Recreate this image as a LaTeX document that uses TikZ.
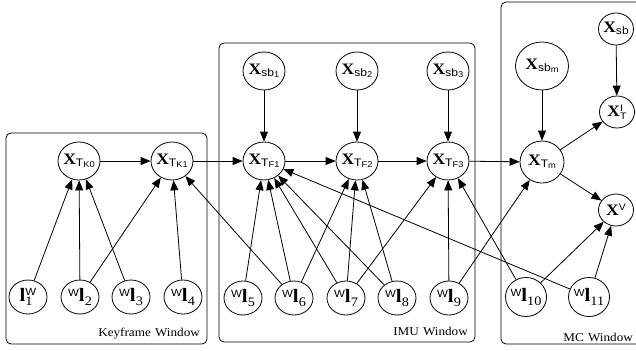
\documentclass[tikz,border=0pt]{standalone}
\usepackage{fontspec}
\setmainfont{Liberation Serif}[FakeStretch=1.1]
\setsansfont{Liberation Sans}[FakeStretch=1.1]
\usetikzlibrary{shapes.geometric,arrows.meta}

% label of zero width, so that the ellipse keeps its own size
\newcommand\zw[1]{\makebox[0pt]{#1}}
% bold X with a two-level sans subscript, e.g. X_{T_{K0}}
\newcommand\xsubsub[2]{\zw{{\fontsize{16}{16}\selectfont\bfseries X}\raisebox{-1.5pt}{\fontsize{11}{11}\sffamily #1\raisebox{-1pt}{\fontsize{8.5}{8.5}\selectfont #2}}}}
% bold X with stacked sans superscript / subscript
\newcommand\xsupsub[2]{\zw{{\fontsize{16}{16}\selectfont\bfseries X}\raisebox{5pt}{\rlap{\fontsize{9.5}{9.5}\sffamily #1}}\raisebox{-3pt}{\fontsize{9.5}{9.5}\sffamily #2}}}
% landmark with a left superscript frame label
\newcommand\lmk[1]{\zw{\raisebox{5.5pt}{\fontsize{10.5}{10.5}\sffamily W}{\fontsize{19}{19}\selectfont\bfseries l}\raisebox{-3.5pt}{\fontsize{13}{13}\selectfont #1}}}

\begin{document}
\begin{tikzpicture}[x=1bp,y=-1bp,
  var/.style={ellipse, draw, line width=0.8bp, inner sep=0pt,
              minimum width=42bp, minimum height=38bp},
  small/.style={var, minimum width=35bp, minimum height=32bp},
  obs/.style={var, minimum width=38bp, minimum height=34bp},
  obsw/.style={var, minimum width=41bp, minimum height=39bp},
  arr/.style={-{Triangle[length=10bp,width=8bp]}, line width=0.8bp},
  win/.style={draw, rounded corners=5bp, line width=0.8bp},
  winlabel/.style={font=\fontsize{12}{12}\selectfont, inner sep=0pt}]
\useasboundingbox (0,0) rectangle (636,350);

% windows
\draw[win] (6,133) rectangle (207,344);
\draw[win] (219,43) rectangle (475,342);
\draw[win] (501,2) rectangle (660,344);
\node[winlabel, anchor=base east] (kfl) at (200,336) {Keyframe\hspace{0.35em}Window};
\node[winlabel, anchor=base east] (imul) at (468,335) {IMU\hspace{0.35em}Window};
\node[winlabel, anchor=base east] (mcl) at (633,341) {MC\hspace{0.35em}Window};

% pose chain
\node[var] (tk0) at (79,161) {\xsubsub{T}{K0}};
\node[var] (tk1) at (172,161) {\xsubsub{T}{K1}};
\node[var] (tf1) at (264,161) {\xsubsub{T}{F1}};
\node[var] (tf2) at (357,161) {\xsubsub{T}{F2}};
\node[var] (tf3) at (448,161) {\xsubsub{T}{F3}};
\node[var, minimum width=44bp, minimum height=42bp] (tm) at (542,162) {\xsubsub{T}{m}};

% speed / bias states
\node[var] (sb1) at (264,71) {\xsubsub{sb}{1}};
\node[var] (sb2) at (357,71) {\xsubsub{sb}{2}};
\node[var] (sb3) at (448,71) {\xsubsub{sb}{3}};
\node[var, minimum width=53bp, minimum height=48bp] (sbm) at (542,66) {\xsubsub{sb}{m}};
\node[small] (sb) at (616,29) {\xsubsub{sb}{}};
\node[small] (ti) at (617,112) {\xsupsub{I}{T}};
\node[small] (v) at (616,210) {\zw{{\fontsize{16}{16}\selectfont\bfseries X}\raisebox{5pt}{\fontsize{9.5}{9.5}\sffamily V}}};

% landmarks
\node[obs] (l1) at (28,297) {\zw{{\fontsize{19}{19}\selectfont\bfseries l}\raisebox{6.5pt}{\rlap{\fontsize{10.5}{10.5}\sffamily W}}\raisebox{-4pt}{\fontsize{13}{13}\selectfont 1}\hspace{4pt}}};
\node[obs] (l2) at (80,297) {\lmk{2}};
\node[obs] (l3) at (131,297) {\lmk{3}};
\node[obs] (l4) at (183,297) {\lmk{4}};
\node[obs] (l5) at (243,298) {\lmk{5}};
\node[obs] (l6) at (294,298) {\lmk{6}};
\node[obs] (l7) at (346,298) {\lmk{7}};
\node[obs] (l8) at (397,298) {\lmk{8}};
\node[obs] (l9) at (449,298) {\lmk{9}};
\node[obsw] (l10) at (526,297) {\lmk{10}};
\node[obsw] (l11) at (589,297) {\lmk{11}};

% temporal links
\draw[arr] (tk0) -- (tk1);
\draw[arr] (tk1) -- (tf1);
\draw[arr] (tf1) -- (tf2);
\draw[arr] (tf2) -- (tf3);
\draw[arr] (tf3) -- (tm);

% bias links
\draw[arr] (sb1) -- (tf1);
\draw[arr] (sb2) -- (tf2);
\draw[arr] (sb3) -- (tf3);
\draw[arr] (sbm) -- (tm);
\draw[arr] (sb) -- (ti);
\draw[arr] (tm) -- (ti);
\draw[arr] (tm) -- (v);

% observations
\draw[arr] (l1) -- (tk0);
\draw[arr] (l2) -- (tk0);
\draw[arr] (l3) -- (tk0);
\draw[arr] (l2) -- (tk1);
\draw[arr] (l4) -- (tk1);
\draw[arr] (l6) -- (tk1);
\draw[arr] (l5) -- (tf1);
\draw[arr] (l6) -- (tf1);
\draw[arr] (l7) -- (tf1);
\draw[arr] (l8) -- (tf1);
\draw[arr] (l11) -- (tf1);
\draw[arr] (l6) -- (tf2);
\draw[arr] (l7) -- (tf2);
\draw[arr] (l8) -- (tf2);
\draw[arr] (l7) -- (tf3);
\draw[arr] (l9) -- (tf3);
\draw[arr] (l10) -- (tf3);
\draw[arr] (l9) -- (tm);
\draw[arr] (l10) -- (v);
\draw[arr] (l11) -- (v);
\end{tikzpicture}
\end{document}
